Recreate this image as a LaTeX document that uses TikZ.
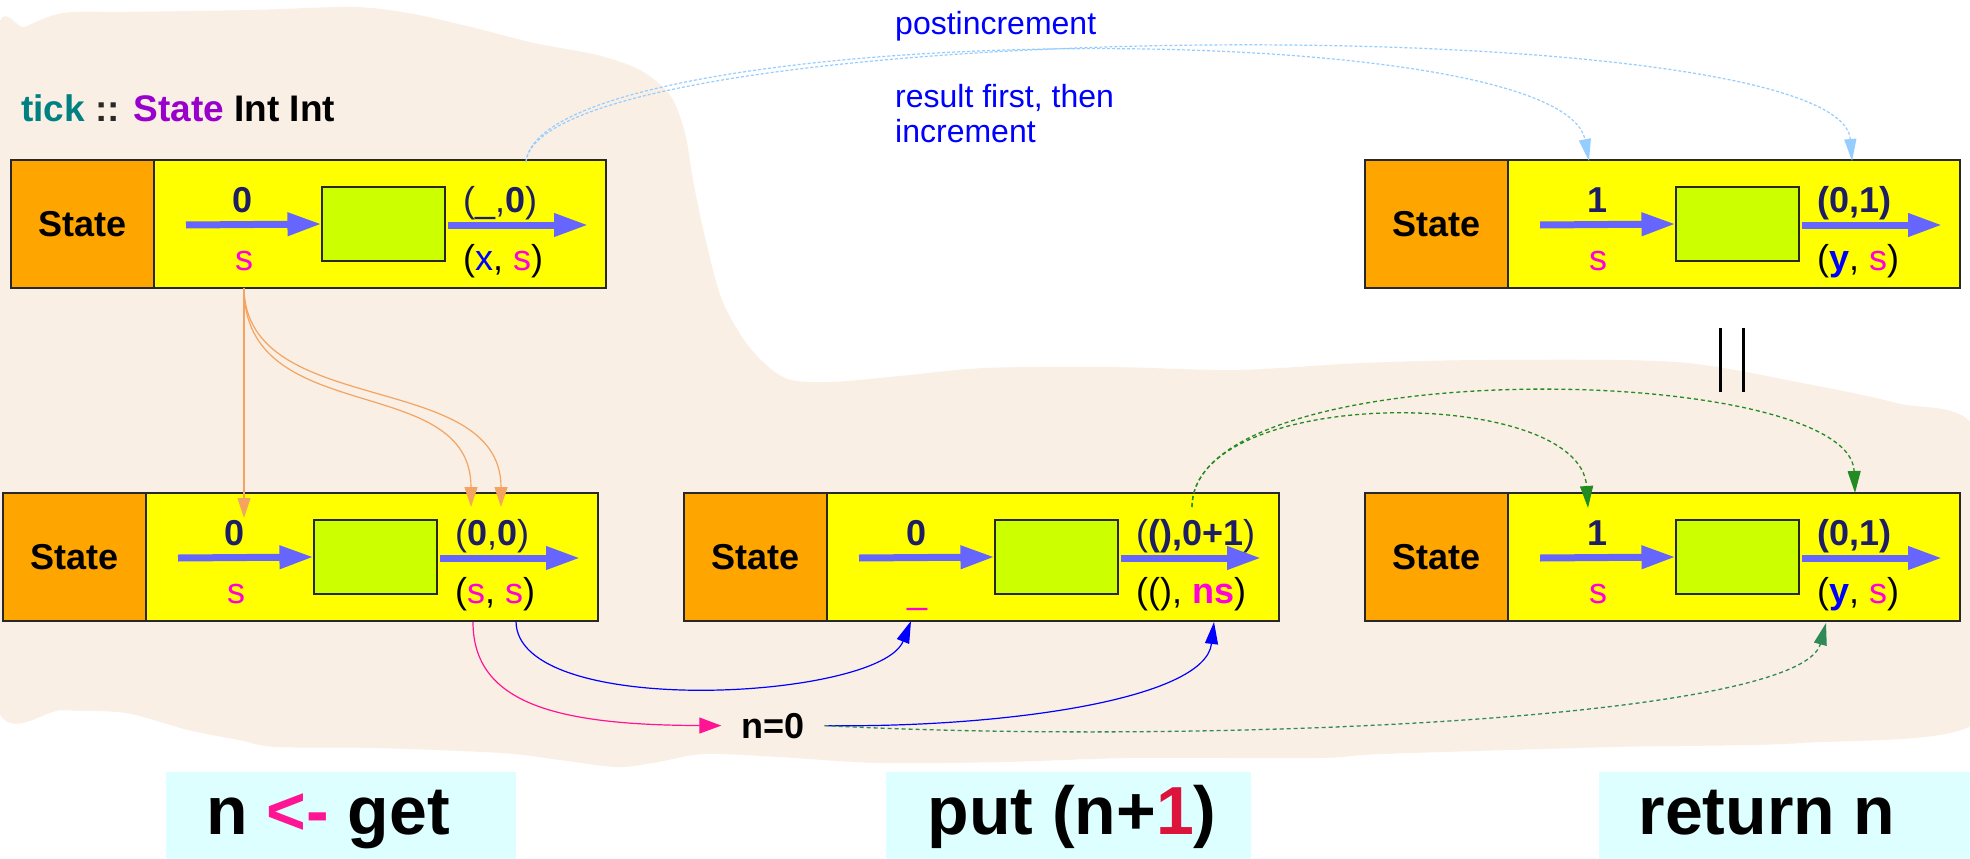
\documentclass[tikz,border=0pt]{standalone}
\usepackage{fontspec}
\setmainfont{Liberation Sans}
\usetikzlibrary{arrows.meta}

\definecolor{blob}{RGB}{250,239,229}
\definecolor{stateorange}{RGB}{255,165,0}
\definecolor{boxyellow}{RGB}{255,255,0}
\definecolor{boxgreen}{RGB}{204,255,0}
\definecolor{flowblue}{RGB}{102,102,255}
\definecolor{numnavy}{RGB}{30,30,100}
\definecolor{varpink}{RGB}{255,0,221}
\definecolor{edgeorange}{RGB}{244,164,96}
\definecolor{noteblue}{RGB}{150,205,255}
\definecolor{linkgreen}{RGB}{34,139,34}
\definecolor{retgreen}{RGB}{46,139,87}
\definecolor{hotpink}{RGB}{255,20,147}
\definecolor{crimsonc}{RGB}{220,20,60}
\definecolor{tealc}{RGB}{0,128,128}
\definecolor{violetc}{RGB}{153,0,204}
\definecolor{labelcyan}{RGB}{221,255,255}
\definecolor{edgedark}{RGB}{40,40,40}
\definecolor{arrowlight}{RGB}{140,198,255}

% one State box: name, x, y, value above, value below, result above, result below
\newcommand\mkstate[7]{%
  \begin{scope}[shift={(#2,#3)}]
    \node[mainbox] (#1) at (297.5,64) {};
    \node[statecell] (#1-state) at (71.5,64) {State};
    \node[runbox] (#1-run) at (372.5,64) {};
    \coordinate (#1-in) at (175,65);
    \coordinate (#1-mid) at (437,65);
    \coordinate (#1-out) at (577,65);
    \draw[flow] (#1-in) -- (#1-run.west);
    \draw[flow] (#1-mid) -- (#1-out);
    \node[val, anchor=base] (#1-v) at (232,52) {#4};
    \node[val, anchor=base] (#1-s) at (233,110) {#5};
    \node[val, anchor=base west] (#1-rv) at (452,52) {#6};
    \node[val, anchor=base west] (#1-rs) at (452,110) {#7};
  \end{scope}}

\newcommand\nv[1]{\textcolor{numnavy}{\textbf{#1}}}
\newcommand\pv[1]{\textcolor{varpink}{#1}}

\begin{document}
\begin{tikzpicture}[x=1pt,y=-1pt,
  mainbox/.style={draw=edgedark, line width=1.3pt, fill=boxyellow,
    minimum width=595pt, minimum height=128pt, inner sep=0pt},
  statecell/.style={draw=edgedark, line width=1.3pt, fill=stateorange,
    minimum width=143pt, minimum height=128pt, inner sep=0pt,
    font=\fontsize{36}{40}\selectfont\bfseries},
  runbox/.style={draw=edgedark, line width=1.1pt, fill=boxgreen,
    minimum width=123pt, minimum height=74pt, inner sep=0pt},
  flow/.style={draw=flowblue, line width=7pt, -{Triangle[length=34pt,width=22pt]}},
  val/.style={inner sep=0pt, font=\fontsize{36}{40}\selectfont},
  note/.style={inner sep=0pt, anchor=base west, text=blue,
    font=\fontsize{32}{36}\selectfont},
  feed/.style={draw=edgeorange, line width=1.2pt,
    -{Triangle[length=20pt,width=13pt]}},
  carry/.style={draw=noteblue, line width=1.2pt, dash pattern=on 3pt off 2pt,
    -{Triangle[length=22pt,width=12pt]}},
  keep/.style={draw=linkgreen, line width=1.3pt, dash pattern=on 4pt off 3pt,
    -{Triangle[length=22pt,width=13pt]}},
  wire/.style={draw=blue, line width=1.2pt, -{Triangle[length=22pt,width=13pt]}},
  tagtext/.style={inner sep=0pt, text height=48pt, text depth=14pt,
    font=\fontsize{68}{72}\selectfont\bfseries},
]
\useasboundingbox (0,0) rectangle (1970,859);
\fill[white] (0,0) rectangle (1970,859);

% background region
\fill[blob] plot[smooth cycle, tension=0.5] coordinates {
  (-4,43) (25,27) (63,13) (126,12) (251,10) (352,7) (408,13) (471,27)
  (534,43) (597,55) (640,70) (670,95) (685,133) (693,180) (704,233)
  (722,300) (750,348) (785,378) (830,382) (900,376) (985,368) (1111,367)
  (1236,370) (1362,363) (1488,360) (1676,362) (1802,383) (1896,403)
  (1975,430) (1975,600) (1975,723) (1802,743) (1613,747) (1382,754)
  (1319,758) (1131,758) (1005,762) (879,763) (779,757) (704,754)
  (653,763) (616,767) (560,760) (502,753) (377,748) (276,747) (239,740)
  (188,730) (126,713) (63,710) (-4,703) (-4,400)};

% type signature
\node[inner sep=0pt, anchor=base west, font=\fontsize{37}{40}\selectfont\bfseries]
  (sig) at (21,121) {\textcolor{tealc}{tick} \textcolor{edgedark}{::}
  \textcolor{violetc}{State} Int Int};

% annotations
\node[note] (post) at (895,35) {postincrement};
\node[note] (first) at (895,107) {result first, then};
\node[note] (incr) at (895,142) {increment};

% transition arrow
\shade[top color=white, middle color=arrowlight, bottom color=white]
  (838,208) -- (1029,208) -- (1029,190) -- (1089,228) -- (1029,267)
  -- (1029,249) -- (838,249) -- cycle;

% equality mark
\draw[line width=3pt] (1720,328) -- (1720,392);
\draw[line width=3pt] (1743,328) -- (1743,392);

% the five State boxes
\mkstate{tl}{11}{160}{\nv{0}}{\pv{s}}
  {\textcolor{numnavy}{(\_,\textbf{0})}}{(\textcolor{blue}{x}, \pv{s})}
\mkstate{tr}{1365}{160}{\nv{1}}{\pv{s}}
  {\nv{(0,1)}}{(\textcolor{blue}{\textbf{y}}, \pv{s})}
\mkstate{ga}{3}{493}{\nv{0}}{\pv{s}}
  {\textcolor{numnavy}{(\textbf{0},\textbf{0})}}{(\pv{s}, \pv{s})}
\mkstate{pb}{684}{493}{\nv{0}}{\pv{\_}}
  {\textcolor{numnavy}{(\textbf{(),0+1})}}{((), \textcolor{varpink}{\textbf{ns}})}
\mkstate{rc}{1365}{493}{\nv{1}}{\pv{s}}
  {\nv{(0,1)}}{(\textcolor{blue}{\textbf{y}}, \pv{s})}

% value node
\node[inner sep=0pt, inner xsep=20pt, anchor=base,
  font=\fontsize{36}{40}\selectfont\bfseries] (nval) at (773,738) {n=0};

% connection points
\coordinate (getsrc) at (244,288);
\coordinate (getin) at (244,518);
\coordinate (getl) at (471,507);
\coordinate (getr) at (501,507);
\coordinate (postsrc) at (526,162);
\coordinate (posta) at (1589,161);
\coordinate (postb) at (1852,161);
\coordinate (putsrc) at (1192,507);
\coordinate (reta) at (1588,508);
\coordinate (retb) at (1855,493);
\coordinate (rety) at (1826,623);
\coordinate (pairl) at (473,622);
\coordinate (pairr) at (516,621);
\coordinate (putin) at (911,621);
\coordinate (putns) at (1214,622);

% get copies the state
\draw[feed] (getsrc) -- (getin);
\draw[feed] (getsrc) .. controls (244,430) and (471,370) .. (getl);
\draw[feed] (getsrc) .. controls (246,420) and (501,368) .. (getr);

% postincrement links
\draw[carry] (postsrc) .. controls (540,20) and (1560,10) .. (posta);
\draw[carry] (postsrc) .. controls (540,15) and (1840,5) .. (postb);

% put result carried to return
\draw[keep] (putsrc) .. controls (1192,385) and (1580,385) .. (reta);
\draw[keep] (putsrc) .. controls (1192,350) and (1850,362) .. (retb);

% bottom wiring
\draw[draw=hotpink, line width=1.2pt, -{Triangle[length=22pt,width=16pt]}]
  (pairl) .. controls (473,705) and (560,725) .. (nval.west);
\draw[wire] (pairr) .. controls (516,720) and (880,700) .. (putin);
\draw[wire] (nval.east) .. controls (1000,728) and (1205,700) .. (putns);
\draw[keep, draw=retgreen] (nval.east) .. controls (1200,745) and (1800,720) .. (rety);

% do-notation lines
\fill[labelcyan] (166,772) rectangle (516,862);
\fill[labelcyan] (886,772) rectangle (1251,862);
\fill[labelcyan] (1599,772) rectangle (1975,862);
\node[tagtext] (lget) at (328,817) {n \textcolor{hotpink}{<-} get};
\node[tagtext] (lput) at (1072,817) {put (n+\textcolor{crimsonc}{1})};
\node[tagtext] (lret) at (1767,817) {return n};
\end{tikzpicture}
\end{document}
